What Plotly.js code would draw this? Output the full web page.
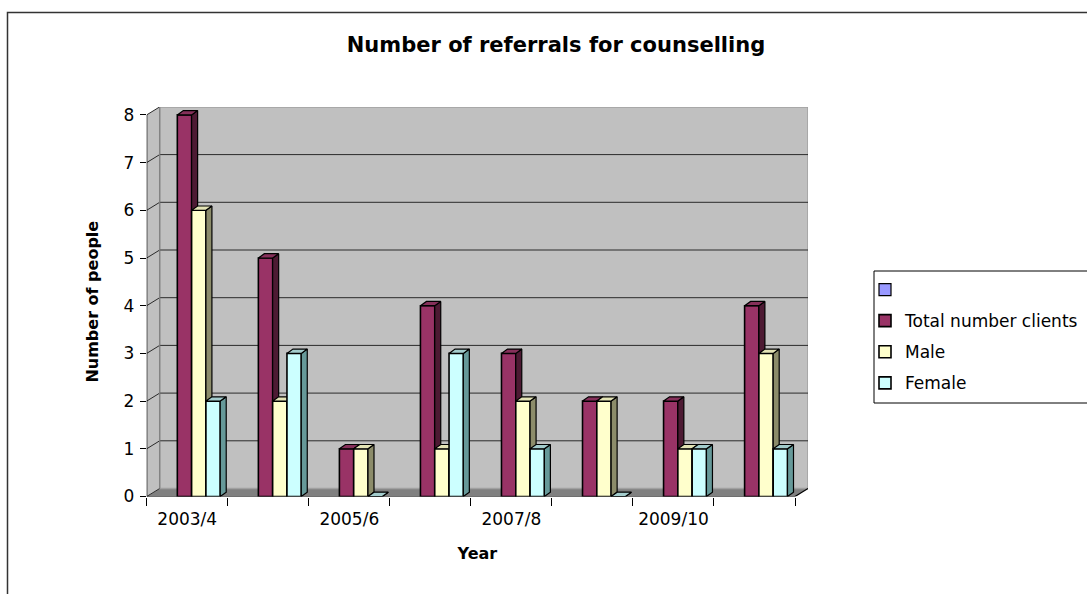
<!DOCTYPE html>
<html>
<head>
<meta charset="utf-8">
<script src="https://cdn.plot.ly/plotly-3.0.1.min.js"></script>
<style>html,body{margin:0;padding:0;background:#fff;}</style>
</head>
<body>
<div id="chart" style="width:1087px;height:594px;"></div>
<script>
// ---- data ----
const categories = ['2003/4','2004/5','2005/6','2006/7','2007/8','2008/9','2009/10','2010/11'];
const totalClients = [8, 5, 1, 4, 3, 2, 2, 4];
const male = [6, 2, 1, 1, 2, 2, 1, 3];
const female = [2, 3, 0, 3, 1, 0, 1, 1];
const blankSeries = [null, null, null, null, null, null, null, null];
const yTicks = [0, 1, 2, 3, 4, 5, 6, 7, 8];

// ---- geometry (styling) ----
const W = 1087, H = 594;
const px = v => v / W, py = v => 1 - v / H;
const X0 = 146.7, UX = 81.04, Y0 = 496.5, UY = 47.7;
const ex = 13 / UX, ey = 8 / UY;       // wall depth
const fdx = 6 / UX, fdy = 4.3 / UY;    // bar depth
const nCat = categories.length;
const yMax = 8;
const xRange = [-0.5, nCat - 0.5 + ex];
const yRange = [0, yMax + ey];
const xIdx = categories.map((c, i) => i);
const barW = 14.3 / UX;

const FONT = 'DejaVu Sans, Arial, sans-serif';

function faces(vals, off) {
  const side = {x: [], y: []}, top = {x: [], y: []};
  vals.forEach((v, i) => {
    const xl = i + off, xr = i + off + barW;
    side.x.push(xr, xr + fdx, xr + fdx, xr, xr, null);
    side.y.push(0, fdy, v + fdy, v, 0, null);
    top.x.push(xl, xr, xr + fdx, xl + fdx, xl, null);
    top.y.push(v, v, v + fdy, v + fdy, v, null);
  });
  return {side, top};
}

function seriesTraces(name, vals, off, xa, cFront, cSide, cTop) {
  const f = faces(vals, off);
  return [
    {type: 'bar', name: name, x: xIdx, y: vals, xaxis: xa, yaxis: 'y',
     offset: off, width: barW, legendgroup: name,
     marker: {color: cFront, line: {color: '#000', width: 1.6}}, hoverinfo: 'skip'},
    {type: 'scatter', mode: 'lines', x: f.side.x, y: f.side.y, xaxis: xa, yaxis: 'y',
     fill: 'toself', fillcolor: cSide, line: {color: '#000', width: 1.2},
     showlegend: false, hoverinfo: 'skip', legendgroup: name},
    {type: 'scatter', mode: 'lines', x: f.top.x, y: f.top.y, xaxis: xa, yaxis: 'y',
     fill: 'toself', fillcolor: cTop, line: {color: '#000', width: 1.2},
     showlegend: false, hoverinfo: 'skip', legendgroup: name}
  ];
}

const offBlank = -24.2 / UX, offTotal = -9.9 / UX, offMale = 4.4 / UX, offFemale = 18.7 / UX;

const traces = [
  {type: 'bar', name: ' ', x: xIdx, y: blankSeries, xaxis: 'x', yaxis: 'y',
   offset: offBlank, width: barW, legendgroup: 'blank',
   marker: {color: '#9999FF', line: {color: '#000', width: 1.2}}, hoverinfo: 'skip'},
  ...seriesTraces('Total number clients', totalClients, offTotal, 'x', '#993366', '#4d1a33', '#86305a'),
  ...seriesTraces('Male', male, offMale, 'x2', '#FFFFCC', '#8c8c6a', '#e3e3b5'),
  ...seriesTraces('Female', female, offFemale, 'x3', '#CCFFFF', '#669999', '#a3cccc')
];

// ---- wall / floor / grid shapes ----
const shapes = [];
shapes.push({type: 'rect', xref: 'paper', yref: 'paper', x0: px(7.5), x1: px(1100), y0: py(620), y1: py(12.5),
  line: {color: '#333', width: 1.5}, fillcolor: 'rgba(0,0,0,0)', layer: 'below'});
const xl = -0.5, xrr = nCat - 0.5;
shapes.push({type: 'path', xref: 'x', yref: 'y', layer: 'below',
  path: `M ${xl},0 L ${xrr},0 L ${xrr + ex},${ey} L ${xl + ex},${ey} Z`,
  fillcolor: '#808080', line: {width: 0}});
shapes.push({type: 'path', xref: 'x', yref: 'y', layer: 'below',
  path: `M ${xl},0 L ${xl + ex},${ey} L ${xl + ex},${yMax + ey} L ${xl},${yMax} Z`,
  fillcolor: '#C0C0C0', line: {width: 0}});
shapes.push({type: 'rect', xref: 'x', yref: 'y', layer: 'below',
  x0: xl + ex, x1: xrr + ex, y0: ey, y1: yMax + ey,
  fillcolor: '#C0C0C0', line: {color: '#a0a0a0', width: 1.5}});
yTicks.forEach(v => {
  if (v > 0 && v < yMax) {
    shapes.push({type: 'line', xref: 'x', yref: 'y', layer: 'below',
      x0: xl + ex, x1: xrr + ex, y0: v + ey, y1: v + ey, line: {color: '#2a2a2a', width: 1}});
  }
  shapes.push({type: 'line', xref: 'x', yref: 'y', layer: 'below',
    x0: xl, x1: xl + ex, y0: v, y1: v + ey, line: {color: '#2a2a2a', width: 1}});
});
shapes.push({type: 'line', xref: 'x', yref: 'y', layer: 'below',
  x0: xl + ex, x1: xl + ex, y0: ey, y1: yMax + ey, line: {color: '#808080', width: 1.2}});
shapes.push({type: 'line', xref: 'x', yref: 'y', layer: 'below',
  x0: xl, x1: xl, y0: 0, y1: yMax, line: {color: '#000', width: 1.2}});
shapes.push({type: 'line', xref: 'x', yref: 'y', layer: 'below',
  x0: xl, x1: xrr, y0: 0, y1: 0, line: {color: '#000', width: 1.2}});
shapes.push({type: 'line', xref: 'x', yref: 'y', layer: 'below',
  x0: xrr, x1: xrr + ex, y0: 0, y1: ey, line: {color: '#000', width: 1.2}});
// legend box
shapes.push({type: 'rect', xref: 'paper', yref: 'paper', x0: px(874), x1: px(1100), y0: py(403), y1: py(271),
  line: {color: '#000', width: 1}, fillcolor: '#fff', layer: 'below'});

const boundaries = [];
for (let i = 0; i <= nCat; i++) boundaries.push(i - 0.5);
const shownIdx = xIdx.filter(i => i % 2 === 0);

const xDomain = [px(X0), px(X0 + (nCat + ex) * UX)];
const layout = {
  width: W, height: H, autosize: false,
  margin: {l: 0, r: 0, t: 0, b: 0, pad: 0},
  paper_bgcolor: '#fff', plot_bgcolor: 'rgba(0,0,0,0)',
  font: {family: FONT, size: 17, color: '#000'},
  title: {text: 'Number of referrals for counselling', font: {family: FONT, size: 21, weight: 'bold', color: '#000'},
    x: px(556), xanchor: 'center', xref: 'paper', y: py(45), yanchor: 'middle', yref: 'container'},
  barmode: 'overlay',
  showlegend: true,
  legend: {x: px(865), xanchor: 'left', y: py(272), yanchor: 'top', bgcolor: 'rgba(0,0,0,0)',
    borderwidth: 0, font: {family: FONT, size: 17, color: '#000'}, tracegroupgap: 6, traceorder: 'grouped'},
  xaxis: {domain: xDomain, range: xRange, type: 'linear', anchor: 'y',
    tickvals: shownIdx, ticktext: shownIdx.map(i => categories[i]), ticks: '', ticklabelstandoff: 10,
    showgrid: false, zeroline: false, showline: false, fixedrange: true,
    tickfont: {family: FONT, size: 17, color: '#000'},
    title: {text: 'Year', font: {family: FONT, size: 16, weight: 'bold', color: '#000'}, standoff: 20}},
  xaxis2: {overlaying: 'x', anchor: 'y', range: xRange, type: 'linear',
    tickvals: boundaries, ticks: 'outside', ticklen: 8, tickcolor: '#000', tickwidth: 1,
    showticklabels: false, showgrid: false, zeroline: false, showline: false},
  xaxis3: {overlaying: 'x', anchor: 'y', range: xRange, type: 'linear', visible: false},
  yaxis: {domain: [py(Y0), py(Y0 - (yMax + ey) * UY)], range: yRange, type: 'linear', anchor: 'x',
    tickvals: yTicks, ticks: 'outside', ticklen: 6, tickcolor: '#000', tickwidth: 1,
    showgrid: false, zeroline: false, showline: false, ticklabelstandoff: 2,
    tickfont: {family: FONT, size: 17, color: '#000'},
    title: {text: 'Number of people', font: {family: FONT, size: 16, weight: 'bold', color: '#000'}, standoff: 20}},
  shapes: shapes
};

Plotly.newPlot('chart', traces, layout, {staticPlot: true, displayModeBar: false});
</script>
</body>
</html>
